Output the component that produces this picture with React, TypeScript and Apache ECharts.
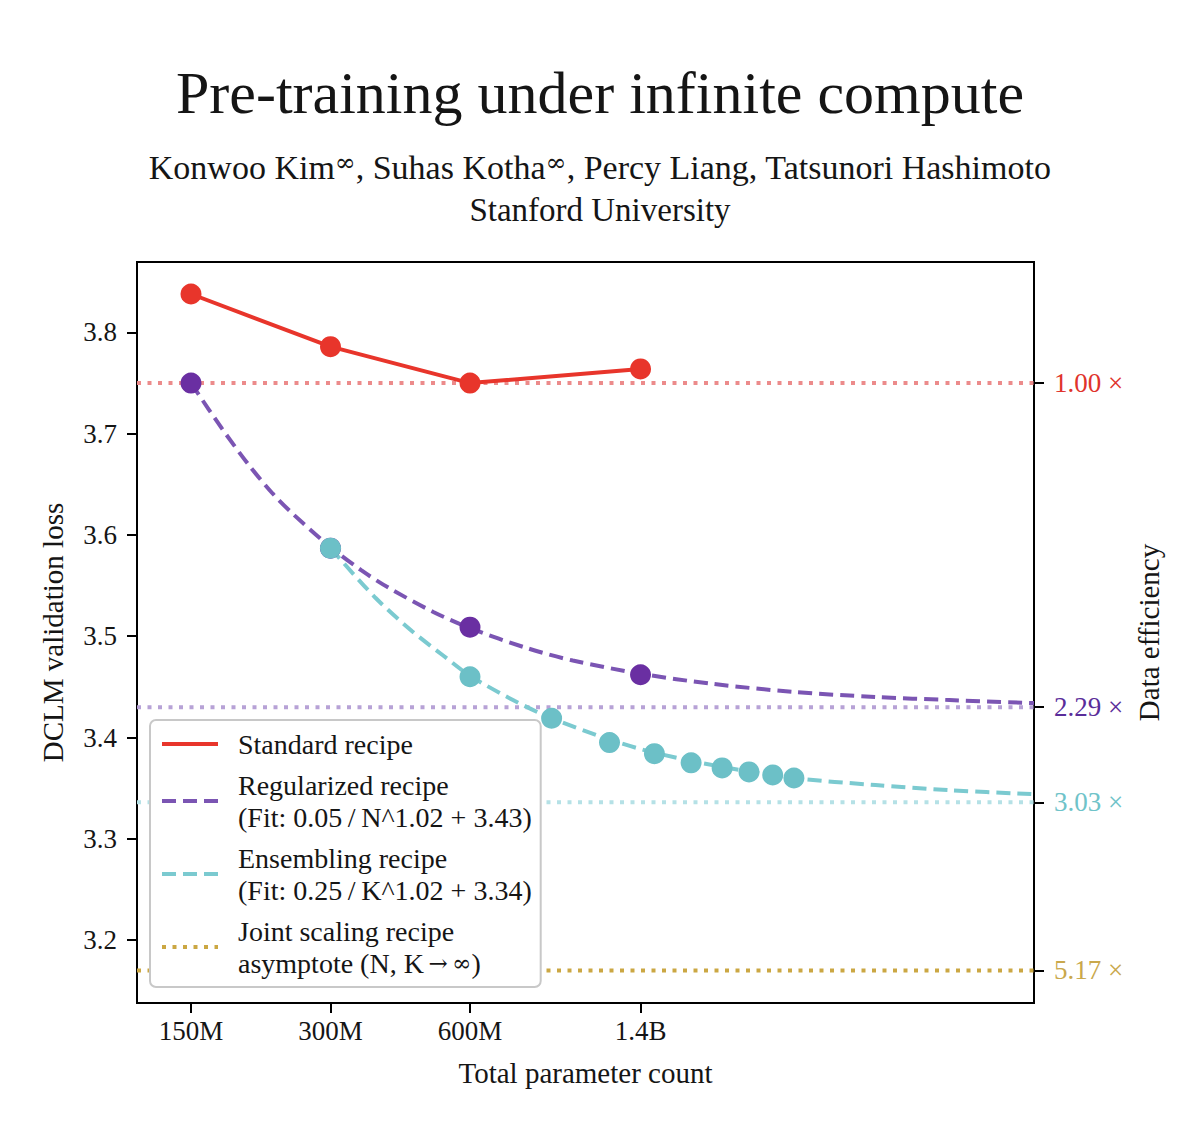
import { useEffect, useRef } from 'react';
import * as echarts from 'echarts';

const SERIF = '"Liberation Serif", "DejaVu Serif", serif';
const SYMBOL_FONT = '"DejaVu Serif", serif';
const INK = '#151515';

// x axis: total parameter count, in millions (drawn on a log2 scale)
const xRange = [114.7, 9890];
const tickParams = [150, 300, 600, 1400];
const tickLabels = ['150M', '300M', '600M', '1.4B'];
const yTicks = [3.2, 3.3, 3.4, 3.5, 3.6, 3.7, 3.8];

const standardParams = [150, 300, 600, 1400];
const standardLoss = [3.838, 3.786, 3.75, 3.764];

const regularizedParams = [150, 300, 600, 1400];
const regularizedLoss = [3.75, 3.587, 3.509, 3.462];
const regularizedFitParams = [150, 175, 200, 225, 250, 300, 350, 400, 500, 600, 800, 1000, 1400, 2000, 3000, 4500, 6500, 9890];
const regularizedFitLoss = [3.75, 3.705, 3.669, 3.641, 3.62, 3.588, 3.565, 3.548, 3.524, 3.508, 3.488, 3.476, 3.463, 3.453, 3.445, 3.44, 3.437, 3.434];

const ensembleParams = [300, 600, 900, 1200, 1500, 1800, 2100, 2400, 2700, 3000];
const ensembleLoss = [3.587, 3.46, 3.419, 3.395, 3.384, 3.375, 3.37, 3.366, 3.363, 3.36];
const ensembleFitParams = [300, 375, 450, 525, 600, 750, 900, 1200, 1500, 2100, 3000, 4500, 6500, 9890];
const ensembleFitLoss = [3.587, 3.538, 3.505, 3.481, 3.461, 3.436, 3.419, 3.398, 3.385, 3.371, 3.36, 3.353, 3.348, 3.344];

// data-efficiency levels (right axis)
const effLevels = [3.75, 3.43, 3.336, 3.17];
const effLabels = ['1.00 ×', '2.29 ×', '3.03 ×', '5.17 ×'];
const effLabelColors = ['#e0332b', '#5a2d9a', '#6fc3c9', '#c9a84c'];
const effLineColors = ['#ec8b8b', '#b7a2d6', '#b5e1e6', '#cba743'];

const names = {
  standard: 'Standard recipe',
  regularized: 'Regularized recipe\n(Fit: 0.05\u2009/\u2009N^1.02 + 3.43)',
  ensemble: 'Ensembling recipe\n(Fit: 0.25\u2009/\u2009K^1.02 + 3.34)',
  joint: 'Joint scaling recipe\nasymptote (N, K \u2192 \u221e)',
};

const lg = (m: number) => Math.log2(m);
const pairs = (xs: number[], ys: number[]) => xs.map((x, i) => [lg(x), ys[i]]);
const nearest = (list: number[], v: number) => {
  let best = 0;
  list.forEach((l, i) => {
    if (Math.abs(l - v) < Math.abs(list[best] - v)) best = i;
  });
  return best;
};

const App = () => {
  const chartRef = useRef<HTMLDivElement>(null);

  useEffect(() => {
    if (!chartRef.current) return;
    const chart = echarts.init(chartRef.current, null, { renderer: 'svg' });

    const font = { fontFamily: SERIF, color: INK };
    const dash = [14, 7];
    const dot = [4, 6.5];

    const effRich: Record<string, any> = {};
    effLabelColors.forEach((c, i) => {
      effRich['e' + i] = { color: c, fontFamily: SERIF, fontSize: 27 };
    });

    const asymptotes = effLevels.map((lvl, i) => ({
      name: i === 3 ? names.joint : 'level' + i,
      type: 'line',
      data: [[lg(xRange[0]), lvl], [lg(xRange[1]), lvl]],
      symbol: 'none',
      lineStyle: { color: effLineColors[i], width: 4, type: dot },
      itemStyle: { color: effLineColors[i] },
      z: 1,
    }));

    const option: any = {
      animation: false,
      title: [
        {
          text: 'Pre-training under infinite compute',
          left: 'center', top: 63, padding: 0,
          textStyle: { ...font, fontSize: 60, fontWeight: 'normal' },
        },
        {
          text: 'Konwoo Kim{s|\u221e}, Suhas Kotha{s|\u221e}, Percy Liang, Tatsunori Hashimoto',
          left: 'center', top: 150, padding: 0,
          textStyle: {
            ...font, fontSize: 34, fontWeight: 'normal',
            rich: { s: { fontFamily: SYMBOL_FONT, color: INK, fontSize: 25, verticalAlign: 'top', lineHeight: 20 } },
          },
        },
        {
          text: 'Stanford University',
          left: 'center', top: 193, padding: 0,
          textStyle: { ...font, fontSize: 33, fontWeight: 'normal' },
        },
      ],
      grid: {
        left: 137, top: 262, width: 897, height: 741,
        show: true, borderColor: '#000', borderWidth: 2, backgroundColor: 'transparent',
      },
      legend: {
        data: [names.standard, names.regularized, names.ensemble, names.joint],
        orient: 'vertical',
        left: 150, top: 720,
        itemWidth: 56, itemHeight: 14, itemGap: 9,
        padding: [8, 9, 8, 10],
        backgroundColor: '#fff',
        borderColor: '#c8c8c8', borderWidth: 2, borderRadius: 6,
        itemStyle: { opacity: 0 },
        lineStyle: { width: 4 },
        selectedMode: false,
        formatter: (name: string) =>
          name === names.joint ? 'Joint scaling recipe\nasymptote (N, K{m|\u2009\u2192\u2009\u221e})' : name,
        textStyle: {
          ...font, fontSize: 28, lineHeight: 32, padding: [0, 0, 0, 15],
          rich: { m: { fontFamily: SYMBOL_FONT, color: INK, fontSize: 23, lineHeight: 32 } },
        },
      },
      xAxis: {
        type: 'value',
        min: lg(xRange[0]), max: lg(xRange[1]),
        axisLine: { show: true, lineStyle: { color: '#000', width: 2 } },
        axisTick: { show: true, customValues: tickParams.map(lg), length: 10, lineStyle: { color: '#000', width: 2 } },
        axisLabel: {
          customValues: tickParams.map(lg),
          formatter: (v: number) => tickLabels[nearest(tickParams.map(lg), v)],
          ...font, fontSize: 27, margin: 14,
        },
        splitLine: { show: false },
        name: 'Total parameter count',
        nameLocation: 'middle', nameGap: 55,
        nameTextStyle: { ...font, fontSize: 29 },
      },
      yAxis: [
        {
          type: 'value',
          min: 3.1378, max: 3.8696,
          position: 'left',
          axisLine: { show: true, lineStyle: { color: '#000', width: 2 } },
          axisTick: { show: true, customValues: yTicks, length: 10, lineStyle: { color: '#000', width: 2 } },
          axisLabel: { customValues: yTicks, formatter: (v: number) => v.toFixed(1), ...font, fontSize: 27, margin: 20 },
          splitLine: { show: false },
          name: 'DCLM validation loss',
          nameLocation: 'middle', nameGap: 70, nameRotate: 90,
          nameTextStyle: { ...font, fontSize: 29 },
        },
        {
          type: 'value',
          min: 3.1378, max: 3.8696,
          position: 'right',
          axisLine: { show: true, lineStyle: { color: '#000', width: 2 } },
          axisTick: { show: true, customValues: effLevels, length: 10, lineStyle: { color: '#000', width: 2 } },
          axisLabel: {
            customValues: effLevels,
            formatter: (v: number) => {
              const i = nearest(effLevels, v);
              return `{e${i}|${effLabels[i]}}`;
            },
            rich: effRich,
            fontFamily: SERIF, fontSize: 27, margin: 20,
          },
          splitLine: { show: false },
          name: 'Data efficiency',
          nameLocation: 'middle', nameGap: 82, nameRotate: 90,
          nameTextStyle: { ...font, fontSize: 29 },
        },
      ],
      series: [
        ...asymptotes,
        {
          name: names.regularized,
          type: 'line',
          data: pairs(regularizedFitParams, regularizedFitLoss),
          symbol: 'none',
          smooth: 0.3,
          lineStyle: { color: '#7b55b3', width: 4, type: dash },
          itemStyle: { color: '#7b55b3' },
          z: 3,
        },
        {
          name: names.ensemble,
          type: 'line',
          data: pairs(ensembleFitParams, ensembleFitLoss),
          symbol: 'none',
          smooth: 0.3,
          lineStyle: { color: '#7bcad0', width: 4, type: dash },
          itemStyle: { color: '#7bcad0' },
          z: 3,
        },
        {
          name: names.standard,
          type: 'line',
          data: pairs(standardParams, standardLoss),
          symbol: 'circle',
          symbolSize: 21,
          lineStyle: { color: '#e8352b', width: 4 },
          itemStyle: { color: '#e8352b' },
          z: 5,
        },
        {
          name: 'Regularized runs',
          type: 'scatter',
          data: pairs(regularizedParams, regularizedLoss),
          symbolSize: 21,
          itemStyle: { color: '#6a2fa2', opacity: 1 },
          z: 6,
        },
        {
          name: 'Ensemble runs',
          type: 'scatter',
          data: pairs(ensembleParams, ensembleLoss),
          symbolSize: 21,
          itemStyle: { color: '#6cc0c7', opacity: 1 },
          z: 6,
        },
      ],
    };

    chart.setOption(option);
    return () => {
      chart.dispose();
    };
  }, []);

  return (
    <div
      ref={chartRef}
      style={{ position: 'absolute', left: 0, top: 0, width: '1200px', height: '1123px', background: '#fff' }}
    />
  );
};

export default App;
